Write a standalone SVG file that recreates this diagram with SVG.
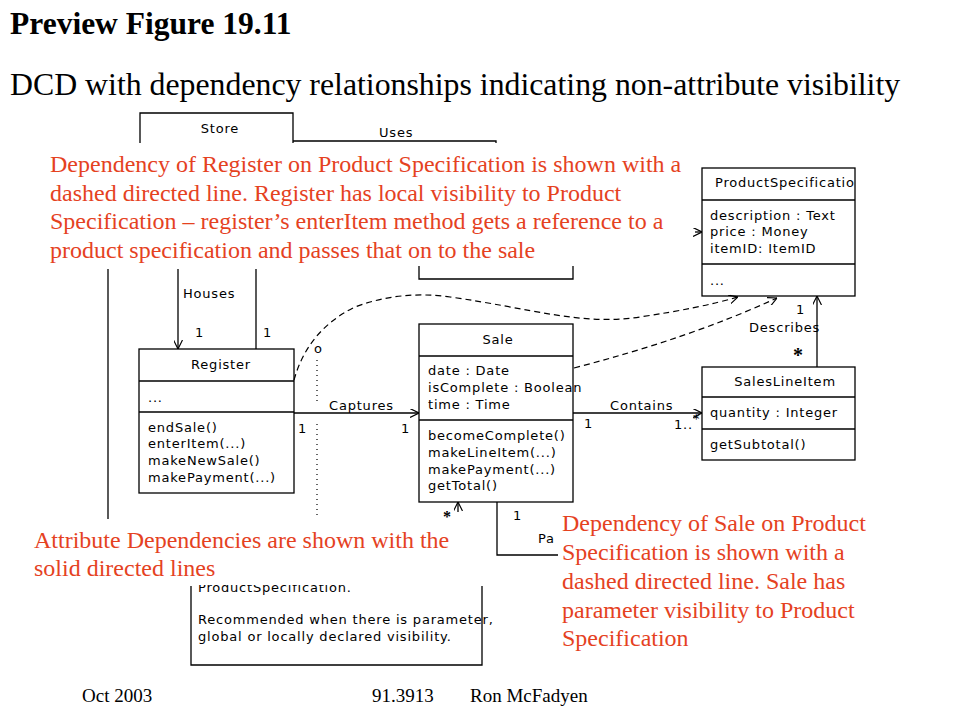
<svg xmlns="http://www.w3.org/2000/svg" width="960" height="720" viewBox="0 0 960 720">
<defs>
<style>
.tt{font-family:"Liberation Serif","Times New Roman",serif;fill:#000}
.red{font-family:"Liberation Serif","Times New Roman",serif;font-size:24px;fill:#e5421f}
.u{font-family:"DejaVu Sans",Verdana,sans-serif;font-size:13px;fill:#000;letter-spacing:0.8px}
.box{fill:#fff;stroke:#000;stroke-width:1.3}
.ln{stroke:#000;stroke-width:1.3;fill:none}
.dash{stroke:#000;stroke-width:1.2;fill:none;stroke-dasharray:6 4}
.dot{stroke:#000;stroke-width:1.2;fill:none;stroke-dasharray:1 4}
</style>
<marker id="open" viewBox="0 0 10 10" refX="10" refY="5" markerWidth="9" markerHeight="9" orient="auto" markerUnits="userSpaceOnUse">
<path d="M0,0 L10,5 L0,10" fill="none" stroke="#000" stroke-width="1.3"/>
</marker>
<clipPath id="psclip"><rect x="703" y="169" width="151" height="30"/></clipPath>
<clipPath id="noteclip"><rect x="192" y="585" width="300" height="20"/></clipPath>
</defs>
<rect width="960" height="720" fill="#fff"/>

<g id="title">
<text class="tt" x="10" y="34" font-size="31.5" font-weight="bold">Preview Figure 19.11</text>
<text class="tt" x="10" y="95" font-size="31.8">DCD with dependency relationships indicating non-attribute visibility</text>
</g>

<g id="store">
<path class="ln" d="M140,143 V113 H293 V143"/>
<text class="u" x="220" y="133" text-anchor="middle">Store</text>
</g>

<g id="catalog-fragment">
<path class="ln" d="M419,266 V279 H573 V266"/>
</g>

<g id="register">
<rect class="box" x="139" y="349" width="155" height="144"/>
<line class="ln" x1="139" y1="381" x2="294" y2="381"/>
<line class="ln" x1="139" y1="412" x2="294" y2="412"/>
<text class="u" x="221" y="369" text-anchor="middle">Register</text>
<text class="u" x="148" y="402">...</text>
<text class="u" x="148" y="432">endSale()</text>
<text class="u" x="148" y="448">enterItem(...)</text>
<text class="u" x="148" y="465">makeNewSale()</text>
<text class="u" x="148" y="482">makePayment(...)</text>
</g>

<g id="sale">
<rect class="box" x="419" y="324" width="154" height="178"/>
<line class="ln" x1="419" y1="356" x2="573" y2="356"/>
<line class="ln" x1="419" y1="420" x2="573" y2="420"/>
<text class="u" x="498" y="344" text-anchor="middle">Sale</text>
<text class="u" x="428" y="375">date : Date</text>
<text class="u" x="428" y="392">isComplete : Boolean</text>
<text class="u" x="428" y="409">time : Time</text>
<text class="u" x="428" y="440">becomeComplete()</text>
<text class="u" x="428" y="457">makeLineItem(...)</text>
<text class="u" x="428" y="474">makePayment(...)</text>
<text class="u" x="428" y="490">getTotal()</text>
</g>

<g id="saleslineitem">
<rect class="box" x="702" y="367" width="153" height="93"/>
<line class="ln" x1="702" y1="397" x2="855" y2="397"/>
<line class="ln" x1="702" y1="429" x2="855" y2="429"/>
<text class="u" x="785" y="386" text-anchor="middle">SalesLineItem</text>
<text class="u" x="710" y="417">quantity : Integer</text>
<text class="u" x="710" y="449">getSubtotal()</text>
</g>

<g id="productspecification">
<rect class="box" x="702" y="168" width="153" height="128"/>
<line class="ln" x1="702" y1="200" x2="855" y2="200"/>
<line class="ln" x1="702" y1="264" x2="855" y2="264"/>
<text class="u" x="715" y="187" clip-path="url(#psclip)">ProductSpecification</text>
<text class="u" x="710" y="220">description : Text</text>
<text class="u" x="710" y="236">price : Money</text>
<text class="u" x="710" y="253">itemID: ItemID</text>
<text class="u" x="710" y="285">...</text>
</g>

<g id="note">
<path class="ln" d="M191,586 V665 H482 V586"/>
<text class="u" x="198" y="592" clip-path="url(#noteclip)">ProductSpecification.</text>
<text class="u" x="198" y="624">Recommended when there is parameter,</text>
<text class="u" x="198" y="641">global or locally declared visibility.</text>
</g>

<g id="connectors">
<path class="ln" d="M293,141 H496 V143"/>
<text class="u" x="379" y="137">Uses</text>
<line class="ln" x1="108" y1="269" x2="108" y2="519"/>
<line class="ln" x1="178" y1="269" x2="178" y2="349" marker-end="url(#open)"/>
<line class="ln" x1="256" y1="269" x2="256" y2="349"/>
<text class="u" x="183" y="298">Houses</text>
<text class="u" x="195" y="337">1</text>
<text class="u" x="263" y="337">1</text>

<line class="ln" x1="294" y1="413" x2="419" y2="413" marker-end="url(#open)"/>
<text class="u" x="329" y="410">Captures</text>
<text class="u" x="298" y="433">1</text>
<text class="u" x="401" y="433">1</text>

<line class="ln" x1="573" y1="413" x2="702" y2="413" marker-end="url(#open)"/>
<text class="u" x="610" y="410">Contains</text>
<text class="u" x="584" y="428">1</text>
<text class="u" x="674" y="429">1..<tspan dy="-6">*</tspan></text>

<line class="ln" x1="817" y1="367" x2="817" y2="296" marker-end="url(#open)"/>
<text class="u" x="796" y="314">1</text>
<text class="u" x="749" y="332">Describes</text>
<text class="tt" x="793" y="362" font-size="20" font-weight="bold">*</text>

<line class="ln" x1="695" y1="232" x2="702" y2="232" marker-end="url(#open)"/>

<line class="ln" x1="458" y1="512" x2="458" y2="502" marker-end="url(#open)"/>
<text class="tt" x="443" y="522" font-size="16" font-weight="bold">*</text>
<path class="ln" d="M497,502 V555 H558"/>
<text class="u" x="513" y="520">1</text>
<text class="u" x="538" y="543">Pa</text>

<path class="dash" d="M294,380 Q308,330 355,307 Q400,290 450,297 C530,308 580,326 640,317 Q700,308 738,297" marker-end="url(#open)"/>
<path class="dash" d="M574,368 Q690,338 777,298" marker-end="url(#open)"/>
<text class="u" x="314" y="353" font-size="11">o</text>
<line class="dot" x1="317" y1="360" x2="317" y2="402"/>
<line class="dot" x1="317" y1="424" x2="317" y2="518"/>
</g>

<g id="callout-register">
<text class="red" x="50" y="172">Dependency of Register on Product Specification is shown with a</text>
<text class="red" x="50" y="201">dashed directed line. Register has local visibility to Product</text>
<text class="red" x="50" y="229">Specification – register’s enterItem method gets a reference to a</text>
<text class="red" x="50" y="258">product specification and passes that on to the sale</text>
</g>

<g id="callout-attribute">
<text class="red" x="34" y="548">Attribute Dependencies are shown with the</text>
<text class="red" x="34" y="576">solid directed lines</text>
</g>

<g id="callout-sale">
<text class="red" x="562" y="531">Dependency of Sale on Product</text>
<text class="red" x="562" y="560">Specification is shown with a</text>
<text class="red" x="562" y="589">dashed directed line. Sale has</text>
<text class="red" x="562" y="618">parameter visibility to Product</text>
<text class="red" x="562" y="646">Specification</text>
</g>

<g id="footer">
<text class="tt" x="82" y="702" font-size="19">Oct 2003</text>
<text class="tt" x="372" y="702" font-size="19">91.3913</text>
<text class="tt" x="470" y="702" font-size="19">Ron McFadyen</text>
</g>
</svg>
